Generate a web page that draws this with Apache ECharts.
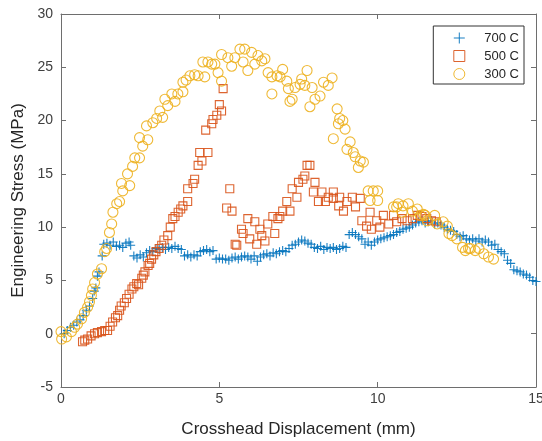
<!DOCTYPE html>
<html>
<head>
<meta charset="utf-8">
<script src="https://cdn.jsdelivr.net/npm/echarts@6/dist/echarts.min.js"></script>
<style>
  html, body { margin: 0; padding: 0; background: #fff; }
  #chart { width: 542px; height: 441px; }
</style>
</head>
<body>
<div id="chart"></div>
<script>
// series names
const seriesNames = ['700 C', '500 C', '300 C'];

// 700 C  [displacement mm, stress MPa]
const s700 = [
  [0.1,0.0],[0.2,0.3],[0.3,0.6],[0.4,0.8],[0.5,1.1],[0.6,1.3],[0.7,1.7],[0.8,2.2],[0.9,2.6],[1.0,3.3],
  [1.05,4.0],[1.1,4.3],[1.15,5.4],[1.2,5.8],[1.3,7.3],[1.35,8.4],[1.45,8.5],[1.55,8.3],[1.65,8.6],[1.75,8.2],
  [1.85,8.3],[1.95,8.1],[2.05,8.5],[2.15,8.6],[2.2,8.3],[2.3,7.3],[2.4,7.1],[2.5,7.4],[2.6,7.2],[2.7,7.6],
  [2.8,7.8],[2.9,7.7],[3.0,8.0],[3.1,7.9],[3.2,8.1],[3.3,7.9],[3.4,8.1],[3.5,8.0],[3.6,8.2],[3.7,8.0],
  [3.8,7.9],[3.9,7.3],[4.0,7.4],[4.1,7.2],[4.2,7.4],[4.3,7.3],[4.4,7.7],[4.5,7.8],[4.6,7.9],[4.7,7.7],
  [4.8,7.8],[4.9,7.0],[5.0,7.1],[5.1,7.0],[5.2,7.0],[5.3,6.9],[5.4,7.1],[5.5,7.2],[5.6,7.0],[5.7,7.2],
  [5.8,7.3],[5.9,7.2],[6.0,7.0],[6.1,7.3],[6.2,6.8],[6.3,7.2],[6.4,7.4],[6.5,7.5],[6.6,7.3],[6.7,7.6],
  [6.8,7.5],[6.9,7.7],[7.0,7.8],[7.1,7.7],[7.2,8.0],[7.3,8.3],[7.4,8.4],[7.5,8.6],[7.6,8.8],[7.7,8.7],
  [7.8,8.5],[7.9,8.4],[8.0,8.1],[8.1,8.0],[8.2,8.2],[8.3,7.9],[8.4,8.1],[8.5,8.0],[8.6,8.1],[8.7,7.9],
  [8.8,8.0],[8.9,8.2],[9.0,8.1],[9.1,9.3],[9.2,9.5],[9.3,9.3],[9.4,9.1],[9.5,8.9],[9.6,8.4],[9.7,8.6],
  [9.8,8.3],[9.9,8.6],[10.0,8.8],[10.1,8.9],[10.2,9.0],[10.3,9.1],[10.4,9.2],[10.5,9.3],[10.6,9.5],[10.7,9.6],
  [10.8,9.8],[10.9,9.9],[11.0,10.0],[11.1,10.2],[11.2,10.4],[11.3,10.5],[11.4,10.6],[11.5,10.4],[11.6,10.5],[11.7,10.6],
  [11.8,10.3],[11.9,10.4],[12.0,10.2],[12.1,10.0],[12.2,9.8],[12.3,9.7],[12.4,9.6],[12.5,9.3],[12.6,9.1],[12.7,9.2],
  [12.8,8.9],[12.9,8.8],[13.0,8.9],[13.1,8.7],[13.2,8.9],[13.3,8.6],[13.4,8.8],[13.5,8.6],[13.6,8.3],[13.7,8.4],
  [13.8,7.9],[13.9,7.7],[14.0,7.5],[14.1,6.9],[14.2,6.6],[14.3,6.0],[14.4,5.9],[14.5,5.8],[14.6,5.6],[14.7,5.5],
  [14.8,5.3],[14.9,5.0],[15.0,4.9]
];

// 500 C
const s500 = [
  [0.68,-0.75],[0.75,-0.6],[0.84,-0.5],[0.95,-0.2],[1.06,0.0],[1.15,0.1],[1.28,0.2],[1.38,0.3],[1.47,0.3],[1.55,0.7],
  [1.63,1.1],[1.72,1.5],[1.79,1.7],[1.85,2.2],[1.9,2.6],[2.0,2.9],[2.07,3.3],[2.15,3.7],[2.24,4.2],[2.3,4.4],
  [2.39,4.7],[2.45,4.6],[2.55,5.2],[2.6,5.5],[2.65,5.8],[2.75,6.4],[2.8,6.6],[2.86,7.0],[2.93,7.4],[3.0,7.7],
  [3.1,8.0],[3.18,8.3],[3.25,8.8],[3.37,9.2],[3.45,10.0],[3.53,10.8],[3.6,11.0],[3.7,11.4],[3.78,11.7],[3.85,12.0],
  [4.0,12.4],[4.0,13.6],[4.17,14.1],[4.22,14.5],[4.33,15.8],[4.45,16.2],[4.38,17.0],[4.64,17.0],[4.57,19.1],[4.76,19.7],
  [4.8,20.1],[4.92,20.5],[5.07,20.9],[5.0,21.5],[5.12,23.0],[5.33,13.6],[5.23,11.8],[5.4,11.5],[5.5,8.4],[5.55,8.3],
  [5.7,9.8],[5.75,9.4],[5.9,10.8],[5.96,8.9],[6.12,10.5],[6.18,8.4],[6.28,9.8],[6.34,9.2],[6.44,8.7],[6.53,10.3],
  [6.69,11.0],[6.75,9.4],[6.85,10.8],[6.91,11.0],[7.0,11.5],[7.13,12.4],[7.23,11.5],[7.3,13.6],[7.45,12.8],[7.5,14.2],
  [7.64,14.5],[7.7,14.8],[7.77,15.8],[7.86,15.8],[8.02,14.2],[7.97,13.3],[8.24,13.3],[8.13,12.4],[8.35,12.4],[8.44,12.8],
  [8.6,13.3],[8.6,12.7],[8.77,12.0],[8.8,12.8],[8.92,11.5],[9.03,12.4],[9.2,12.8],[9.3,11.9],[9.45,12.7],[9.5,10.6],
  [9.65,10.1],[9.76,11.4],[9.8,9.8],[9.97,10.6],[10.07,10.0],[10.18,11.1],[10.35,10.3],[10.5,11.1],[10.6,10.5],[10.77,10.8],
  [10.93,10.6],[11.1,10.8],[11.25,11.1],[11.4,11.0],[11.55,10.8],[11.7,10.6],[11.85,10.5]
];

// 300 C
const s300 = [
  [0.0,0.2],[0.02,-0.5],[0.17,-0.3],[0.33,0.2],[0.43,0.6],[0.52,0.9],[0.65,1.4],[0.74,2.0],[0.84,2.5],[0.9,3.0],
  [0.96,3.6],[1.0,4.2],[1.06,4.8],[1.15,5.6],[1.28,6.1],[1.38,7.7],[1.44,8.0],[1.53,9.5],[1.6,10.3],[1.64,11.4],
  [1.76,12.2],[1.85,12.4],[1.95,13.4],[1.91,14.1],[2.17,13.9],[2.1,15.0],[2.26,15.7],[2.33,16.5],[2.48,16.5],[2.58,17.6],
  [2.48,18.4],[2.74,18.2],[2.7,19.5],[2.9,19.8],[3.02,20.2],[3.21,20.3],[3.12,20.9],[3.37,21.4],[3.28,22.0],[3.5,22.5],
  [3.6,21.8],[3.69,22.5],[3.85,22.7],[3.85,23.6],[3.95,23.8],[4.07,24.2],[4.22,24.3],[4.33,24.2],[4.54,24.1],[4.48,25.5],
  [4.64,25.5],[4.76,25.3],[4.86,25.3],[4.96,24.5],[5.07,23.7],[5.07,26.2],[5.27,25.9],[5.39,25.1],[5.49,25.9],[5.65,26.7],
  [5.8,26.7],[5.75,25.5],[5.9,24.7],[6.02,26.4],[6.12,25.3],[6.22,26.1],[6.34,25.6],[6.44,25.8],[6.54,24.5],[6.66,22.5],
  [6.66,24.1],[6.82,24.2],[6.92,24.1],[7.0,24.8],[7.13,23.7],[7.18,23.0],[7.23,21.8],[7.3,22.0],[7.39,23.1],[7.55,23.4],
  [7.6,23.9],[7.77,24.7],[7.7,23.3],[7.93,23.1],[8.02,22.0],[7.86,21.3],[8.18,22.3],[8.29,23.6],[8.44,23.3],[8.56,24.0],
  [8.6,18.3],[8.72,21.1],[8.8,20.2],[8.9,20.0],[8.76,19.7],[8.97,19.2],[9.13,18.0],[9.03,17.3],[9.23,17.0],[9.29,16.6],
  [9.45,16.2],[9.55,16.1],[9.39,15.6],[9.7,13.4],[9.86,13.4],[10.0,13.4],[9.76,12.5],[10.0,12.5],[10.5,11.9],[10.6,11.9],
  [10.65,12.2],[10.77,11.4],[10.8,12.0],[10.97,12.2],[11.1,11.5],[11.25,11.7],[11.35,11.1],[11.45,11.2],[11.5,11.1],[11.56,10.6],
  [11.8,11.1],[11.88,10.3],[12.07,10.5],[12.2,10.1],[12.25,9.4],[12.35,9.2],[12.5,8.9],[12.68,8.1],[12.77,7.8],[12.87,8.0],
  [12.93,8.0],[13.08,7.8],[13.2,8.0],[13.35,7.5],[13.5,7.2],[13.66,7.0]
];

const colors = ['#0072BD', '#D95319', '#EDB120'];
const plus = 'path://M0,5L10,5M5,0L5,10';
const square = 'path://M0,0L10,0L10,10L0,10Z';
const symbols = [plus, square, 'circle'];
const sizes = [9, 8, 10];

const chart = echarts.init(document.getElementById('chart'));

const axisColor = '#6e6e6e';
const labelColor = '#404040';
const fontFamily = 'Liberation Sans, Arial, sans-serif';

function mkAxis(pos, min, max, extra) {
  return Object.assign({
    type: 'value',
    position: pos,
    min: min,
    max: max,
    interval: 5,
    splitLine: { show: false },
    axisLine: { show: true, onZero: false, lineStyle: { color: axisColor, width: 1 } },
    axisTick: { show: true, inside: true, length: 5, lineStyle: { color: axisColor } },
    axisLabel: { show: false }
  }, extra || {});
}

const option = {
  animation: false,
  grid: { left: 61, right: 6, top: 14, bottom: 54, outerBoundsMode: 'none' },
  legend: {
    orient: 'vertical',
    right: 18,
    top: 26,
    backgroundColor: '#fff',
    borderColor: '#333',
    borderWidth: 1,
    borderRadius: 0,
    padding: [4, 5, 2, 18],
    itemGap: 2,
    itemWidth: 24,
    itemHeight: 11,
    textStyle: { fontFamily: fontFamily, fontSize: 13, color: '#262626', padding: [0, 0, 0, 8] },
    data: seriesNames.map((n, i) => ({
      name: n,
      icon: symbols[i],
      itemStyle: { color: 'none', borderColor: colors[i], borderWidth: 1 }
    }))
  },
  xAxis: [
    mkAxis('bottom', 0, 15, {
      name: 'Crosshead Displacement (mm)',
      nameLocation: 'middle',
      nameGap: 34,
      nameTextStyle: { fontFamily: fontFamily, fontSize: 17, color: '#262626' },
      axisLabel: { show: true, margin: 5, fontFamily: fontFamily, fontSize: 14, color: labelColor }
    }),
    mkAxis('top', 0, 15)
  ],
  yAxis: [
    mkAxis('left', -5, 30, {
      name: 'Engineering Stress (MPa)',
      nameLocation: 'middle',
      nameGap: 32,
      nameRotate: 90,
      nameTextStyle: { fontFamily: fontFamily, fontSize: 17, color: '#262626' },
      axisLabel: { show: true, margin: 8, fontFamily: fontFamily, fontSize: 14, color: labelColor }
    }),
    mkAxis('right', -5, 30)
  ],
  series: [s700, s500, s300].map((d, i) => ({
    name: seriesNames[i],
    type: 'scatter',
    xAxisIndex: 0,
    yAxisIndex: 0,
    data: d,
    symbol: symbols[i],
    symbolSize: sizes[i],
    itemStyle: { color: 'none', borderColor: colors[i], borderWidth: 1.1, opacity: 0.9 }
  }))
};

chart.setOption(option);
</script>
</body>
</html>
